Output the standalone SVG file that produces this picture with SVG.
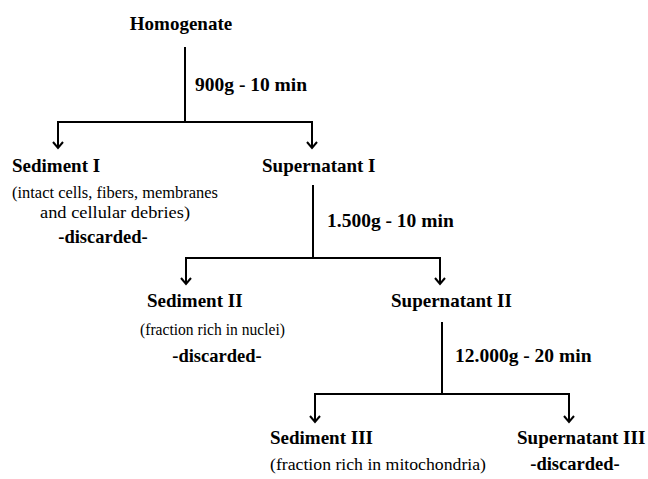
<svg xmlns="http://www.w3.org/2000/svg" width="648" height="479" viewBox="0 0 648 479">
  <defs>
    <style>
      text { font-family: 'Liberation Serif', 'DejaVu Serif', serif; fill: #000; }
      .title { font-weight: bold; font-size: 19px; }
      .step  { font-weight: bold; font-size: 19.5px; }
      .note  { font-weight: normal; font-size: 16.5px; }
      .disc  { font-weight: bold; font-size: 18.5px; }
      .wire  { fill: none; stroke: #000; stroke-width: 2; }
    </style>
    <marker id="tip" viewBox="0 0 12 12" refX="10" refY="6" markerWidth="12" markerHeight="12" markerUnits="userSpaceOnUse" orient="auto">
      <path d="M4,1 L10,6 L4,11" fill="none" stroke="#000" stroke-width="2"/>
    </marker>
  </defs>
  <rect width="648" height="479" fill="#fff"/>

  <!-- connectors: each spin splits into sediment (left) and supernatant (right) -->
  <g id="connectors">
    <path class="wire" d="M185,47 V122"/>
    <path class="wire" d="M58,122 H313"/>
    <path class="wire" d="M58,121 V148" marker-end="url(#tip)"/>
    <path class="wire" d="M312,121 V148" marker-end="url(#tip)"/>

    <path class="wire" d="M313,185 V258"/>
    <path class="wire" d="M185,258 H441"/>
    <path class="wire" d="M186,257 V284" marker-end="url(#tip)"/>
    <path class="wire" d="M440,257 V284" marker-end="url(#tip)"/>

    <path class="wire" d="M442,322 V394"/>
    <path class="wire" d="M314,394 H570"/>
    <path class="wire" d="M315,393 V422" marker-end="url(#tip)"/>
    <path class="wire" d="M569,393 V422" marker-end="url(#tip)"/>
  </g>

  <!-- spin conditions -->
  <g id="spin1"><text class="step" x="195" y="91">900g - 10 min</text></g>
  <g id="spin2"><text class="step" x="327" y="227">1.500g - 10 min</text></g>
  <g id="spin3"><text class="step" x="455" y="362">12.000g - 20 min</text></g>

  <g id="homogenate">
    <text class="title" x="181" y="30" text-anchor="middle">Homogenate</text>
  </g>

  <g id="sediment1">
    <text class="title" x="12" y="172">Sediment I</text>
    <text class="note" x="12" y="198" textLength="206" lengthAdjust="spacingAndGlyphs">(intact cells, fibers, membranes</text>
    <text class="note" x="40" y="218" textLength="150" lengthAdjust="spacingAndGlyphs">and cellular debries)</text>
    <text class="disc" x="103" y="243" text-anchor="middle">-discarded-</text>
  </g>

  <g id="supernatant1">
    <text class="title" x="262" y="172">Supernatant I</text>
  </g>

  <g id="sediment2">
    <text class="title" x="147" y="307">Sediment II</text>
    <text class="note" x="140" y="335" textLength="145" lengthAdjust="spacingAndGlyphs">(fraction rich in nuclei)</text>
    <text class="disc" x="217" y="362" text-anchor="middle">-discarded-</text>
  </g>

  <g id="supernatant2">
    <text class="title" x="391" y="307">Supernatant II</text>
  </g>

  <g id="sediment3">
    <text class="title" x="270" y="444">Sediment III</text>
    <text class="note" x="270" y="470" textLength="216" lengthAdjust="spacingAndGlyphs">(fraction rich in mitochondria)</text>
  </g>

  <g id="supernatant3">
    <text class="title" x="517" y="444">Supernatant III</text>
    <text class="disc" x="575" y="470" text-anchor="middle">-discarded-</text>
  </g>
</svg>
